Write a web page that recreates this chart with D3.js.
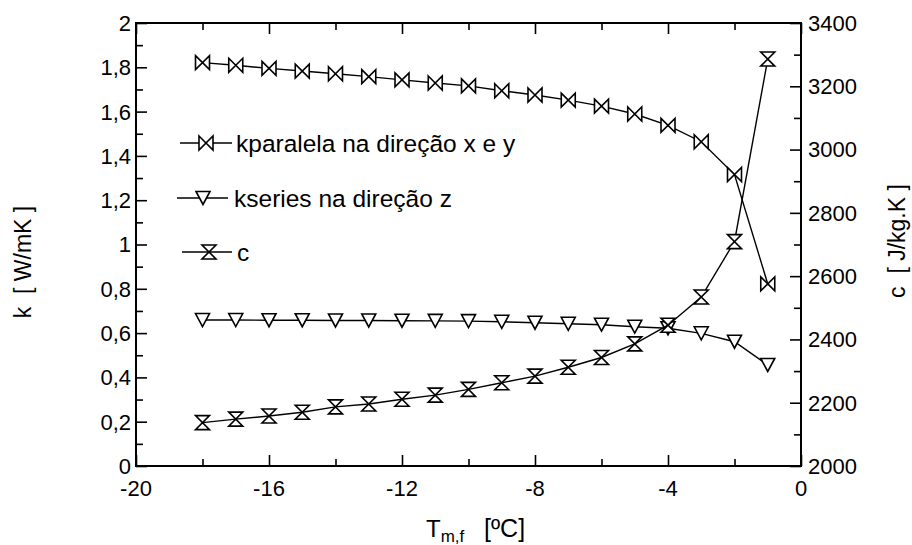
<!DOCTYPE html>
<html>
<head>
<meta charset="utf-8">
<script src="https://cdn.jsdelivr.net/npm/d3@7"></script>
<style>
  body { margin: 0; background: #fff; }
  text { font-family: "Liberation Sans", Arial, Helvetica, sans-serif; fill: #000; }
</style>
</head>
<body>
<svg id="chart" width="912" height="545"></svg>
<script>
// Mean freezing temperature [ºC]
const temperature = [-18, -17, -16, -15, -14, -13, -12, -11, -10, -9, -8, -7, -6, -5, -4, -3, -2, -1];
// Thermal conductivity, parallel model (x and y directions) [W/mK]
const kParalela = [1.821, 1.809, 1.795, 1.783, 1.771, 1.758, 1.743, 1.729, 1.716, 1.694, 1.675, 1.652, 1.625, 1.589, 1.538, 1.464, 1.316, 0.822];
// Thermal conductivity, series model (z direction) [W/mK]
const kSeries = [0.659, 0.659, 0.658, 0.658, 0.657, 0.657, 0.656, 0.655, 0.654, 0.651, 0.647, 0.642, 0.638, 0.629, 0.622, 0.599, 0.561, 0.456];
// Specific heat [J/kg.K]
const cSpecific = [2137, 2148, 2158, 2170, 2187, 2196, 2211, 2224, 2242, 2263, 2284, 2312, 2343, 2386, 2445, 2534, 2709, 3286];

const xMajorTicks = [-20, -16, -12, -8, -4, 0];
const xMinorTicks = [-18, -14, -10, -6, -2];
const kMajorTicks = [0, 0.2, 0.4, 0.6, 0.8, 1, 1.2, 1.4, 1.6, 1.8, 2];
const kMinorTicks = [0.1, 0.3, 0.5, 0.7, 0.9, 1.1, 1.3, 1.5, 1.7, 1.9];
const cMajorTicks = [2000, 2200, 2400, 2600, 2800, 3000, 3200, 3400];
const cMinorTicks = [2100, 2300, 2500, 2700, 2900, 3100, 3300];

const legendLabels = ["kparalela na direção x e y", "kseries na direção z", "c"];

const svg = d3.select("#chart");
const plot = { left: 136, right: 801, top: 23, bottom: 466 };

const x = d3.scaleLinear().domain([-20, 0]).range([plot.left, plot.right]);
const yK = d3.scaleLinear().domain([0, 2]).range([plot.bottom, plot.top]);
const yC = d3.scaleLinear().domain([2000, 3400]).range([plot.bottom, plot.top]);

const commaFmt = v => d3.format("~g")(v).replace(".", ",");

// Marker shapes (open symbols)
const W = 7, H = 7;
const markers = {
  bowtie: `M${-W},${-H}L${W},${H}L${W},${-H}L${-W},${H}Z`,
  triangleDown: `M${-W},${-6.5}L${W},${-6.5}L0,${6.5}Z`,
  hourglass: `M${-W},${-H}L${W},${-H}L${-W},${H}L${W},${H}Z`
};

// Axis helper: tick marks only, pointing into the plot
function drawTicks(generator, transform, tickValues, size) {
  const g = svg.append("g").attr("transform", transform)
    .call(generator.tickValues(tickValues).tickSize(size).tickSizeOuter(0).tickFormat(""));
  g.select(".domain").remove();
  g.selectAll(".tick line").attr("stroke", "#000").attr("stroke-width", 1.6);
  return g;
}

// Bottom axis: ticks point up
drawTicks(d3.axisTop(x), `translate(0,${plot.bottom})`, xMajorTicks, 11);
drawTicks(d3.axisTop(x), `translate(0,${plot.bottom})`, xMinorTicks, 7);
svg.append("g").selectAll("text").data(xMajorTicks).join("text")
  .attr("x", d => x(d)).attr("y", 496).attr("text-anchor", "middle")
  .attr("font-size", 22).text(d => String(d));
// Top axis: ticks point down
drawTicks(d3.axisBottom(x), `translate(0,${plot.top})`, xMajorTicks, 11);
drawTicks(d3.axisBottom(x), `translate(0,${plot.top})`, xMinorTicks, 7);

// Left axis (k)
drawTicks(d3.axisRight(yK), `translate(${plot.left},0)`, kMajorTicks, 11);
drawTicks(d3.axisRight(yK), `translate(${plot.left},0)`, kMinorTicks, 7);
svg.append("g").selectAll("text").data(kMajorTicks).join("text")
  .attr("x", 131).attr("y", d => yK(d)).attr("dy", "0.36em").attr("text-anchor", "end")
  .attr("font-size", 22).text(d => commaFmt(d));

// Right axis (c)
drawTicks(d3.axisLeft(yC), `translate(${plot.right},0)`, cMajorTicks, 11);
drawTicks(d3.axisLeft(yC), `translate(${plot.right},0)`, cMinorTicks, 7);
svg.append("g").selectAll("text").data(cMajorTicks).join("text")
  .attr("x", 808).attr("y", d => yC(d)).attr("dy", "0.36em").attr("text-anchor", "start")
  .attr("font-size", 22).text(d => String(d));

// Frame
svg.append("rect")
  .attr("x", plot.left).attr("y", plot.top)
  .attr("width", plot.right - plot.left).attr("height", plot.bottom - plot.top)
  .attr("fill", "none").attr("stroke", "#000").attr("stroke-width", 2);

// Series
const series = [
  { values: kParalela, y: yK, marker: markers.bowtie },
  { values: kSeries, y: yK, marker: markers.triangleDown },
  { values: cSpecific, y: yC, marker: markers.hourglass }
];

series.forEach(s => {
  const pts = temperature.map((t, i) => [x(t), s.y(s.values[i])]);
  svg.append("path").datum(pts)
    .attr("d", d3.line())
    .attr("fill", "none").attr("stroke", "#000").attr("stroke-width", 1.4);
  svg.append("g").selectAll("path").data(pts).join("path")
    .attr("transform", d => `translate(${d[0]},${d[1]})`)
    .attr("d", s.marker)
    .attr("fill", "#fff").attr("stroke", "#000").attr("stroke-width", 1.6)
    .attr("stroke-linejoin", "miter");
});

// Legend
const legendRows = [
  { y: 143, x0: 180, x1: 232, mx: 206, tx: 236, marker: markers.bowtie },
  { y: 198, x0: 177, x1: 228, mx: 203, tx: 234, marker: markers.triangleDown },
  { y: 252, x0: 182, x1: 232, mx: 209, tx: 237, marker: markers.hourglass }
];
legendRows.forEach((r, i) => {
  svg.append("line").attr("x1", r.x0).attr("x2", r.x1).attr("y1", r.y).attr("y2", r.y)
    .attr("stroke", "#000").attr("stroke-width", 1.4);
  svg.append("path").attr("transform", `translate(${r.mx},${r.y})`).attr("d", r.marker)
    .attr("fill", "#fff").attr("stroke", "#000").attr("stroke-width", 1.6);
  svg.append("text").attr("x", r.tx).attr("y", r.y).attr("dy", "0.36em")
    .attr("font-size", 24.5).text(legendLabels[i]);
});

// Axis titles
const xTitle = svg.append("text").attr("x", 426).attr("y", 537).attr("font-size", 24);
xTitle.append("tspan").text("T");
xTitle.append("tspan").attr("font-size", 17).attr("dy", 5).text("m,f");
xTitle.append("tspan").attr("x", 484).attr("dy", -5).attr("font-size", 25).text("[ºC]");

svg.append("text")
  .attr("transform", "translate(31,262) rotate(-90)")
  .attr("text-anchor", "middle").attr("font-size", 23)
  .text("k\u00a0\u00a0[ W/mK ]");

svg.append("text")
  .attr("transform", "translate(905,241) rotate(-90)")
  .attr("text-anchor", "middle").attr("font-size", 23)
  .text("c\u00a0\u00a0[ J/kg.K ]");
</script>
</body>
</html>
